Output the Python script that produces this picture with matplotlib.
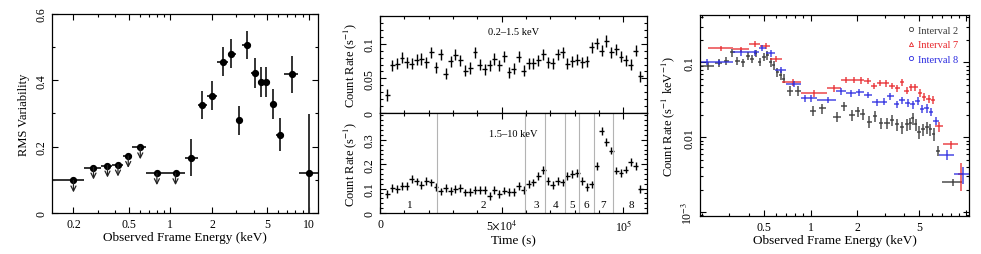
import numpy as np
import matplotlib
matplotlib.use("Agg")
import matplotlib.pyplot as plt
from matplotlib.ticker import FixedLocator, NullFormatter, MultipleLocator
from matplotlib.lines import Line2D

plt.rcParams['font.family'] = ['Liberation Serif', 'DejaVu Serif']
plt.rcParams['mathtext.fontset'] = 'stix'

# ---- panel 1: rms variability spectrum ----
rms_e = [0.2, 0.279, 0.352, 0.419, 0.497, 0.607, 0.80, 1.09, 1.42, 1.70, 2.0,
         2.38, 2.72, 3.12, 3.60, 4.07, 4.5, 4.94, 5.52, 6.2, 7.5, 10.0]
rms_elo = [0.138, 0.240, 0.315, 0.382, 0.452, 0.53, 0.67, 0.96, 1.27, 1.58, 1.84,
           2.18, 2.6, 2.96, 3.3, 3.8, 4.3, 4.7, 5.2, 5.8, 6.6, 8.5]
rms_ehi = [0.240, 0.315, 0.382, 0.452, 0.53, 0.67, 0.96, 1.27, 1.58, 1.84, 2.18,
           2.6, 2.96, 3.3, 3.8, 4.3, 4.7, 5.2, 5.8, 6.6, 8.4, 11.6]
rms_val = [0.098, 0.137, 0.143, 0.146, 0.172, 0.198, 0.120, 0.120, 0.166, 0.326, 0.354,
           0.456, 0.480, 0.279, 0.507, 0.422, 0.394, 0.394, 0.328, 0.236, 0.418, 0.121]
rms_err_lo = [0, 0, 0, 0, 0, 0, 0, 0, 0.056, 0.043, 0.043,
              0.044, 0.044, 0.045, 0.043, 0.044, 0.045, 0.045, 0.046, 0.05, 0.056, 0.121]
rms_err_hi = [0, 0, 0, 0, 0, 0, 0, 0, 0.056, 0.043, 0.043,
              0.044, 0.044, 0.045, 0.043, 0.044, 0.045, 0.045, 0.046, 0.05, 0.056, 0.178]
rms_uplim = [True, True, True, True, True, True, True, True, False, False, False,
             False, False, False, False, False, False, False, False, False, False, False]

# ---- panel 2: light curves ----
lc_time = [3000, 5000, 7000, 9000, 11000, 13000, 15000, 17000, 19000, 21000,
           23000, 25000, 27000, 29000, 31000, 33000, 35000, 37000, 39000, 41000,
           43000, 45000, 47000, 49000, 51000, 53000, 55000, 57000, 59000, 61000,
           63000, 65000, 67000, 69000, 71000, 73000, 75000, 77000, 79000, 81000,
           83000, 85000, 87000, 89000, 91000, 93000, 95000, 97000, 99000, 101000,
           103000, 105000, 107000]
lc_soft = [0.026, 0.069, 0.071, 0.080, 0.073, 0.071, 0.077, 0.078, 0.073, 0.088,
           0.066, 0.085, 0.057, 0.075, 0.084, 0.076, 0.061, 0.065, 0.088, 0.070,
           0.063, 0.069, 0.078, 0.069, 0.082, 0.059, 0.064, 0.081, 0.061, 0.072,
           0.072, 0.076, 0.085, 0.073, 0.072, 0.085, 0.088, 0.071, 0.075, 0.077,
           0.073, 0.075, 0.095, 0.101, 0.090, 0.104, 0.088, 0.092, 0.081, 0.076,
           0.070, 0.090, 0.053]
lc_hard = [0.078, 0.102, 0.098, 0.109, 0.110, 0.139, 0.129, 0.116, 0.132, 0.125,
           0.106, 0.088, 0.101, 0.090, 0.098, 0.102, 0.084, 0.085, 0.095, 0.095,
           0.095, 0.070, 0.095, 0.077, 0.092, 0.087, 0.085, 0.112, 0.095, 0.120,
           0.125, 0.153, 0.175, 0.132, 0.113, 0.132, 0.125, 0.153, 0.160, 0.163,
           0.132, 0.107, 0.117, 0.194, 0.336, 0.291, 0.256, 0.174, 0.164, 0.178,
           0.208, 0.191, 0.099]
lc_bin = 2000
soft_err = 0.008
hard_err = 0.016
interval_edges = [23560, 59450, 67950, 76160, 81920, 87950, 95890]
interval_labels = ['1', '2', '3', '4', '5', '6', '7', '8']
interval_label_t = [12330, 42470, 63970, 72190, 78900, 84660, 91780, 103150]

# ---- panel 3: spectra ----
blk_e = [0.218, 0.257, 0.288, 0.315, 0.339, 0.368, 0.397, 0.421, 0.444, 0.471,
         0.502, 0.527, 0.554, 0.582, 0.611, 0.642, 0.675, 0.741, 0.830, 1.035,
         1.188, 1.48, 1.65, 1.85, 2.01, 2.16, 2.39, 2.60, 2.84, 3.10,
         3.34, 3.59, 3.87, 4.15, 4.36, 4.53, 4.75, 4.99, 5.30, 5.60,
         5.88, 6.17, 6.61, 8.18]
blk_de = [0.02, 0.012, 0.012, 0.012, 0.012, 0.013, 0.012, 0.011, 0.011, 0.013,
          0.012, 0.012, 0.013, 0.013, 0.014, 0.015, 0.015, 0.03, 0.04, 0.05,
          0.06, 0.08, 0.07, 0.08, 0.07, 0.07, 0.09, 0.09, 0.1, 0.12,
          0.11, 0.12, 0.13, 0.12, 0.1, 0.09, 0.11, 0.13, 0.14, 0.14,
          0.14, 0.15, 0.2, 1.2]
blk_y = [0.090, 0.098, 0.105, 0.136, 0.105, 0.100, 0.123, 0.111, 0.133, 0.102,
         0.120, 0.125, 0.100, 0.092, 0.074, 0.068, 0.061, 0.042, 0.042, 0.0227,
         0.0244, 0.0188, 0.026, 0.0198, 0.0222, 0.0205, 0.0162, 0.0191, 0.0154, 0.0154,
         0.0172, 0.0149, 0.0135, 0.0150, 0.0154, 0.0179, 0.0149, 0.0117, 0.0127, 0.0135,
         0.0127, 0.0111, 0.0066, 0.0025]
blk_rel = [0.13, 0.12, 0.12, 0.12, 0.12, 0.12, 0.12, 0.12, 0.12, 0.13,
           0.13, 0.13, 0.13, 0.13, 0.13, 0.14, 0.14, 0.15, 0.15, 0.15,
           0.15, 0.15, 0.15, 0.16, 0.16, 0.16, 0.17, 0.17, 0.17, 0.17,
           0.17, 0.18, 0.18, 0.18, 0.18, 0.18, 0.18, 0.19, 0.19, 0.19,
           0.19, 0.2, 0.15, 0.1]

red_e = [0.265, 0.356, 0.437, 0.515, 0.596, 0.77, 1.06, 1.41, 1.69, 1.90,
         2.11, 2.33, 2.57, 2.81, 3.05, 3.34, 3.61, 3.87, 4.15, 4.42,
         4.71, 5.04, 5.37, 5.74, 6.08, 6.70, 7.96, 9.23]
red_edges = [0.218, 0.318, 0.40, 0.47, 0.55, 0.66, 0.87, 1.28, 1.57, 1.80,
             2.0, 2.22, 2.45, 2.69, 2.93, 3.2, 3.47, 3.74, 4.0, 4.28,
             4.56, 4.87, 5.2, 5.55, 5.9, 6.3, 7.06, 8.81, 9.6]
red_y = [0.154, 0.151, 0.175, 0.167, 0.111, 0.054, 0.0386, 0.045, 0.0588, 0.0588,
         0.058, 0.057, 0.049, 0.053, 0.0525, 0.049, 0.045, 0.054, 0.042, 0.047,
         0.047, 0.039, 0.0349, 0.0325, 0.0318, 0.014, 0.008, 0.0032]
red_rel = [0.08, 0.08, 0.09, 0.09, 0.1, 0.1, 0.1, 0.1, 0.1, 0.1,
           0.1, 0.1, 0.1, 0.1, 0.1, 0.1, 0.11, 0.11, 0.11, 0.11,
           0.11, 0.12, 0.12, 0.12, 0.12, 0.15, 0.12, 0.4]

blu_e = [0.215, 0.257, 0.359, 0.437, 0.49, 0.554, 0.642, 0.782, 0.915, 1.01,
         1.29, 1.57, 1.82, 2.06, 2.35, 2.66, 2.98, 3.26, 3.58, 3.87,
         4.21, 4.53, 4.88, 5.20, 5.57, 5.94, 6.38, 7.58, 9.48]
blu_edges = [0.194, 0.237, 0.318, 0.40, 0.465, 0.52, 0.59, 0.70, 0.87, 0.96,
             1.1, 1.45, 1.7, 1.95, 2.2, 2.5, 2.82, 3.12, 3.42, 3.72,
             4.04, 4.37, 4.7, 5.04, 5.38, 5.75, 6.15, 6.7, 8.4, 10.5]
blu_y = [0.102, 0.100, 0.136, 0.136, 0.158, 0.133, 0.080, 0.0514, 0.0331, 0.0331,
         0.0318, 0.041, 0.0386, 0.0398, 0.037, 0.0293, 0.0299, 0.0352, 0.0278, 0.0314,
         0.0287, 0.0275, 0.0305, 0.0239, 0.0243, 0.0220, 0.0167, 0.0058, 0.0032]
blu_rel = [0.08, 0.08, 0.09, 0.09, 0.09, 0.1, 0.1, 0.1, 0.1, 0.1,
           0.1, 0.1, 0.1, 0.1, 0.1, 0.11, 0.11, 0.11, 0.11, 0.11,
           0.12, 0.12, 0.12, 0.12, 0.13, 0.13, 0.13, 0.15, 0.25]

legend_names = ['Interval 2', 'Interval 7', 'Interval 8']
legend_markers = ['o', '^', 'o']
spec_colors = ['#3a3a3a', '#e8262b', '#2a2ae0']


def style_axis(ax):
    ax.tick_params(which='both', direction='in', top=True, right=True,
                   labelsize=8.5, width=0.8)
    ax.tick_params(which='major', length=4.5)
    ax.tick_params(which='minor', length=2.5)
    for lab in ax.get_yticklabels():
        lab.set_rotation(90)
        lab.set_va('center')
    for s in ax.spines.values():
        s.set_linewidth(0.9)


fig = plt.figure(figsize=(9.81, 2.55), dpi=100)

# panel 1
ax1 = fig.add_axes([0.053, 0.161, 0.271, 0.780])
e = np.array(rms_e)
xe = [e - np.array(rms_elo), np.array(rms_ehi) - e]
ax1.errorbar(rms_e, rms_val, xerr=xe, yerr=[rms_err_lo, rms_err_hi], fmt='none',
             ecolor='#333333', elinewidth=1.4, capsize=0)
ax1.plot(rms_e, rms_val, 'o', color='black', ms=4.2)
for x, y, ul in zip(rms_e, rms_val, rms_uplim):
    if ul:
        ax1.annotate('', xy=(x, y - 0.036), xytext=(x, y),
                     arrowprops=dict(arrowstyle='->', color='#222222', lw=0.9,
                                     shrinkA=0, shrinkB=0, mutation_scale=9))
ax1.set_xscale('log')
ax1.set_xlim(0.14, 11.6)
ax1.set_ylim(0, 0.6)
ax1.xaxis.set_major_locator(FixedLocator([0.2, 0.5, 1, 2, 5, 10]))
ax1.set_xticklabels(['0.2', '0.5', '1', '2', '5', '10'])
ax1.xaxis.set_minor_locator(FixedLocator([0.3, 0.4, 0.6, 0.7, 0.8, 0.9, 3, 4, 6, 7, 8, 9]))
ax1.xaxis.set_minor_formatter(NullFormatter())
ax1.set_yticks([0, 0.2, 0.4, 0.6])
ax1.set_yticklabels(['0', '0.2', '0.4', '0.6'])
ax1.yaxis.set_minor_locator(MultipleLocator(0.1))
ax1.set_xlabel('Observed Frame Energy (keV)', fontsize=9.5, labelpad=1)
ax1.set_ylabel('RMS Variability', fontsize=9, labelpad=4)
style_axis(ax1)

# panel 2 (two stacked light curves)
ax2a = fig.add_axes([0.3874, 0.553, 0.2722, 0.380])
ax2b = fig.add_axes([0.3874, 0.161, 0.2722, 0.392], sharex=ax2a)
ax2a.errorbar(lc_time, lc_soft, xerr=lc_bin / 2, yerr=soft_err, fmt='none',
              ecolor='black', elinewidth=1.0, capsize=0)
ax2b.errorbar(lc_time, lc_hard, xerr=lc_bin / 2, yerr=hard_err, fmt='none',
              ecolor='black', elinewidth=1.0, capsize=0)
for t in interval_edges:
    ax2b.axvline(t, color='0.7', lw=0.8)
for lab, t in zip(interval_labels, interval_label_t):
    ax2b.text(t, 0.036, lab, ha='center', va='center', fontsize=8)
ax2a.text(0.5, 0.84, '0.2–1.5 keV', transform=ax2a.transAxes, ha='center',
          va='center', fontsize=7.5)
ax2b.text(0.5, 0.79, '1.5–10 keV', transform=ax2b.transAxes, ha='center',
          va='center', fontsize=7.5)
ax2a.set_xlim(0, 1.097e5)
ax2a.set_ylim(0, 0.14)
ax2b.set_ylim(0, 0.41)
ax2a.xaxis.set_major_locator(FixedLocator([0, 5e4, 1e5]))
ax2a.xaxis.set_minor_locator(MultipleLocator(1e4))
ax2a.tick_params(labelbottom=False)
ax2b.set_xticklabels(['0', r'5$\times$10$^4$', '10$^5$'])
ax2a.set_yticks([0, 0.05, 0.1])
ax2a.set_yticklabels(['0', '0.05', '0.1'])
ax2a.yaxis.set_minor_locator(MultipleLocator(0.01))
ax2b.set_yticks([0, 0.1, 0.2, 0.3])
ax2b.set_yticklabels(['0', '0.1', '0.2', '0.3'])
ax2b.yaxis.set_minor_locator(MultipleLocator(0.02))
ax2a.set_ylabel('Count Rate (s$^{-1}$)', fontsize=9, labelpad=3)
ax2b.set_ylabel('Count Rate (s$^{-1}$)', fontsize=9, labelpad=3)
ax2b.set_xlabel('Time (s)', fontsize=9.5, labelpad=1)
style_axis(ax2a)
style_axis(ax2b)

# panel 3 spectra
ax3 = fig.add_axes([0.7136, 0.149, 0.274, 0.788])
by = np.array(blk_y)
ax3.errorbar(blk_e, blk_y, xerr=blk_de, yerr=by * np.array(blk_rel), fmt='none',
             ecolor=spec_colors[0], elinewidth=1.1, capsize=0, alpha=0.9)
for cen, edges, yy, rel, col in [(red_e, red_edges, red_y, red_rel, spec_colors[1]),
                                 (blu_e, blu_edges, blu_y, blu_rel, spec_colors[2])]:
    c = np.array(cen)
    ed = np.array(edges)
    yv = np.array(yy)
    ax3.errorbar(c, yv, xerr=[c - ed[:-1], ed[1:] - c], yerr=yv * np.array(rel),
                 fmt='none', ecolor=col, elinewidth=1.1, capsize=0, alpha=0.85)
ax3.set_xscale('log')
ax3.set_yscale('log')
ax3.set_xlim(0.195, 10.4)
ax3.set_ylim(8.85e-4, 0.43)
ax3.xaxis.set_major_locator(FixedLocator([0.5, 1, 2, 5, 10]))
ax3.set_xticklabels(['0.5', '1', '2', '5', ''])
ax3.xaxis.set_minor_locator(FixedLocator([0.2, 0.3, 0.4, 0.6, 0.7, 0.8, 0.9, 3, 4, 6, 7, 8, 9]))
ax3.xaxis.set_minor_formatter(NullFormatter())
ax3.set_yticks([1e-3, 0.01, 0.1])
ax3.set_yticklabels(['10$^{-3}$', '0.01', '0.1'])
ax3.yaxis.set_minor_formatter(NullFormatter())
ax3.set_xlabel('Observed Frame Energy (keV)', fontsize=9.5, labelpad=1)
ax3.set_ylabel('Count Rate (s$^{-1}$ keV$^{-1}$)', fontsize=9, labelpad=3)
handles = [Line2D([], [], ls='none', marker=m, mfc='none', mec=c, ms=3, mew=0.6)
           for m, c in zip(legend_markers, spec_colors)]
leg = ax3.legend(handles, legend_names, loc='upper right', frameon=False,
                 fontsize=7.5, handlelength=0.6, handletextpad=0.4,
                 labelspacing=0.5, borderaxespad=0.6)
for txt, c in zip(leg.get_texts(), spec_colors):
    txt.set_color(c)
style_axis(ax3)

fig.savefig('out.png', dpi=100)
